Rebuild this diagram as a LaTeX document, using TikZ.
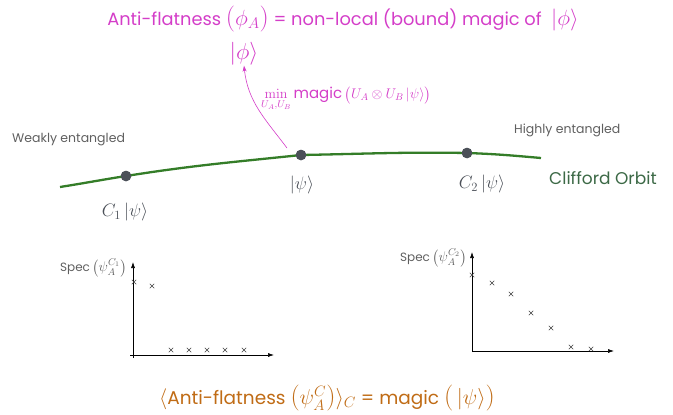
\RequirePackage{fix-cm}
\documentclass[tikz,border=0pt]{standalone}
\usepackage{amsmath}
\usepackage[no-math]{fontspec}
\setmainfont{Poppins}
\usetikzlibrary{arrows.meta,shapes.misc}
\definecolor{magc}{RGB}{212,62,200}
\definecolor{orbit}{RGB}{52,125,40}
\definecolor{orbtxt}{RGB}{60,105,70}
\definecolor{dotc}{RGB}{75,80,88}
\definecolor{graytxt}{RGB}{95,95,95}
\definecolor{orng}{RGB}{192,108,22}
\newcommand{\mth}[2]{{\fontsize{#1}{#1}\selectfont$#2$}}
\begin{document}
\begin{tikzpicture}[x=1pt,y=-1pt,
  magtext/.style={text=magc,inner sep=0pt},
  graylab/.style={text=graytxt,font=\fontsize{12.5}{14}\selectfont,inner sep=0pt},
  statelab/.style={text=dotc,font=\fontsize{18}{20}\selectfont,inner sep=0pt},
  orbitdot/.style={circle,fill=dotc,inner sep=0pt,minimum size=10.5pt},
  axisline/.style={line width=0.6pt,-{Latex[length=6pt,width=4pt]}},
  xmark/.style={cross out,draw=black!75,line width=0.5pt,inner sep=0pt,minimum size=4pt},
  speclab/.style={text=graytxt,font=\fontsize{12}{14}\selectfont,inner sep=0pt}]
\useasboundingbox (0,0) rectangle (673,415);

% title
\node[magtext,font=\fontsize{17.8}{20}\selectfont] (title) at (343,19)
  {Anti-flatness \mth{26}{(}\mth{22}{\phi_A}\mth{26}{)} = non-local (bound) magic of \ \mth{22}{|\phi\rangle}};
\node[magtext,font=\fontsize{23}{25}\selectfont] (phi) at (244,54) {$|\phi\rangle$};

% orbit
\coordinate (o1) at (60,187);
\coordinate (o2) at (541,158);
\node[orbitdot] (d1) at (126,176) {};
\node[orbitdot] (d2) at (301,155) {};
\node[orbitdot] (d3) at (467,153) {};
\draw[orbit,line width=2.3pt] (o1) to[out=9,in=189] (d1.center) to[out=9,in=186] (d2.center)
  to[out=1,in=179] (d3.center) to[out=-2,in=175] (o2);
\node[orbitdot] at (d1) {};
\node[orbitdot] at (d2) {};
\node[orbitdot] at (d3) {};

\node[statelab] (l1) at (125,212) {$C_1\,|\psi\rangle$};
\node[statelab] (l2) at (302,185) {$|\psi\rangle$};
\node[statelab] (l3) at (482,184) {$C_2\,|\psi\rangle$};
\node[text=orbtxt,font=\fontsize{17}{19}\selectfont,inner sep=0pt,anchor=west] (cl) at (549,178) {Clifford Orbit};
\node[graylab,anchor=west] (we) at (12,140) {Weakly entangled};
\node[graylab,anchor=west] (he) at (514,130) {Highly entangled};

% magenta arrow
\coordinate (a0) at (287,148);
\draw[magc,line width=0.6pt,-{Stealth[length=6pt,width=4pt]}] (a0) to[out=127,in=-84] (phi.south);
\node[magtext,font=\fontsize{15}{17}\selectfont,anchor=west] (minl) at (261,99)
  {\mth{14}{\min\limits_{U_A,U_B}}\,magic\,\mth{14}{\big(U_A\otimes U_B\,|\psi\rangle\big)}};

% left plot
\coordinate (ly) at (133,262);
\coordinate (lx) at (274,355);
\draw[axisline] (133,358) -- (ly);
\draw[axisline] (130,355) -- (lx);
\node[speclab,anchor=east] (s1) at (127,268) {Spec\,\mth{14}{\left(\psi_A^{C_1}\right)}};
\foreach \x/\y in {134/282,152/286,171/350,189/350,207/350,225/350,244/350}
  \node[xmark] at (\x,\y) {};

% right plot
\coordinate (ry) at (472,252);
\coordinate (rx) at (614,351);
\draw[axisline] (472,352) -- (ry);
\draw[axisline] (472,351) -- (rx);
\node[speclab,anchor=east] (s2) at (467,258) {Spec\,\mth{14}{\left(\psi_A^{C_2}\right)}};
\foreach \x/\y in {472/275,492/283,511/294,531/313,551/328,571/347,591/349}
  \node[xmark] at (\x,\y) {};

% bottom
\node[text=orng,font=\fontsize{18.5}{21}\selectfont,inner sep=0pt] (bot) at (327,398)
  {\mth{21}{\langle}Anti-flatness \mth{26}{(}\mth{21.5}{\psi_A^C}\mth{26}{)}\mth{21.5}{\rangle_C} = magic \mth{26}{(}\mth{21.5}{\,|\psi\rangle}\mth{26}{)}};
\end{tikzpicture}
\end{document}
